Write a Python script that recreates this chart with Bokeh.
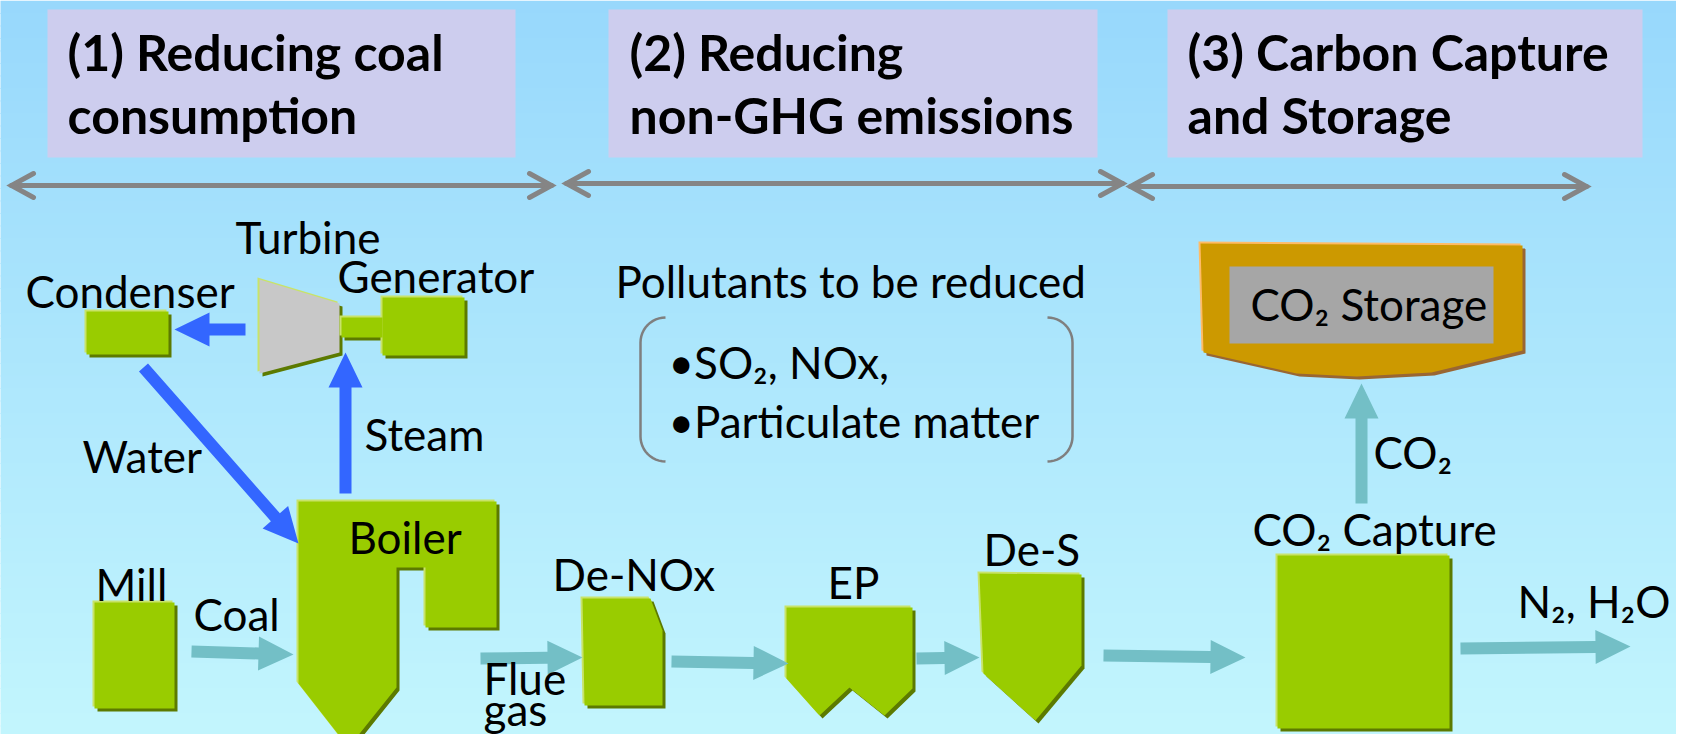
import math
from bokeh.plotting import figure
from bokeh.models import Range1d
from bokeh.core.properties import value
from bokeh.embed import file_html
from bokeh.resources import INLINE

# ---------------- data (image pixel coordinates) ----------------
header_left = [47, 608, 1167]
header_right = [515, 1097, 1642]
header_top = [9, 9, 9]
header_bottom = [157, 157, 157]
header_text = ["(1) Reducing coal", "consumption", "(2) Reducing", "non-GHG emissions",
               "(3) Carbon Capture", "and Storage"]
header_text_x = [67, 67, 629, 629, 1187, 1187]
header_text_y = [70, 133, 70, 133, 70, 133]

span_x0 = [11, 566, 1130]
span_x1 = [551, 1122, 1586]
span_y = [185, 183, 186]

label_text = ["Turbine", "Generator", "Condenser", "Steam", "Water", "Boiler", "Mill", "Coal",
              "Flue", "gas", "De-NOx", "EP", "De-S", "Pollutants to be reduced",
              "\u2022SO\u2082, NOx,", "\u2022Particulate matter", "CO\u2082 Storage",
              "CO\u2082", "CO\u2082 Capture"]
label_x = [235, 337, 25, 364, 82, 348, 95, 193, 483, 483, 552, 827, 983, 615,
           668, 668, 1250, 1373, 1252]
label_y = [253, 292, 307, 450, 472, 553, 600, 630, 694, 725, 590, 598, 565, 297,
           378, 437, 320, 468, 545]
right_label_text = ["N\u2082, H\u2082O"]
right_label_x = [1670]
right_label_y = [617]

green_names = ["Condenser", "Shaft", "Generator", "Mill", "Boiler", "De-NOx", "EP", "De-S", "Capture"]
green_xs = [
    [86, 168, 168, 86],
    [341, 382, 382, 341],
    [382, 464, 464, 382],
    [94, 174, 174, 94],
    [298, 496, 496, 425, 425, 396, 396, 348, 298],
    [582, 650, 662, 662, 584],
    [786, 912, 912, 884, 849, 819, 786],
    [979, 1081, 1081, 1035, 983],
    [1277, 1449, 1449, 1277],
]
green_ys = [
    [311, 311, 354, 354],
    [317, 317, 337, 337],
    [297, 297, 355, 355],
    [602, 602, 708, 708],
    [501, 501, 627, 627, 567, 567, 687, 747, 683],
    [598, 598, 630, 705, 705],
    [607, 607, 688, 715, 687, 715, 678],
    [573, 574, 665, 720, 673],
    [555, 555, 728, 728],
]

turbine_xs = [259, 339, 339, 259]
turbine_ys = [279, 303, 352, 373]

storage_xs = [1200, 1522, 1522, 1431, 1356, 1296, 1203]
storage_ys = [243, 245, 350, 372, 376, 373, 352]
storage_inner = [1229, 1493, 266, 343]  # left, right, top, bottom

blue_arrows = [  # x0, y0, x1, y1
    (245, 329, 174, 329),
    (345, 493, 345, 352),
    (143, 367, 298, 543),
]
teal_arrows = [
    (191, 651, 293, 654),
    (480, 658, 582, 657),
    (671, 661, 788, 663),
    (916, 658, 979, 657),
    (1103, 655, 1245, 657),
    (1460, 648, 1630, 646),
    (1361, 503, 1361, 383),
]

bracket_left_x, bracket_right_x = 640, 1072
bracket_top, bracket_bottom = 317, 461
bracket_arm = 25

# ---------------- styling ----------------
BG_TOP = (0x98, 0xd8, 0xfc)
BG_BOTTOM = (0xc3, 0xf6, 0xfd)
GREEN = "#99cc00"
GREEN_HI = "#c8e36a"
GREEN_SH = "#5c7a00"
BLUE = "#3366ff"
TEAL = "#73bfc6"
GREY_ARROW = "#858585"
HEADER_FILL = "#cdcdee"
FONT = "Lato"
TITLE_PX = 50
LABEL_PX = 44
BASELINE_FIX = 0.38  # em; compensates renderer baseline offset

p = figure(width=1676, height=734, x_range=Range1d(0, 1676), y_range=Range1d(734, 0),
           output_backend="svg", toolbar_location=None, min_border=0)
p.axis.visible = False
p.grid.visible = False
p.outline_line_color = None

# background gradient (bands)
nb = 60
bt, bb, bl, br = [], [], [], []
cols = []
for i in range(nb):
    y0 = i * 750 / nb
    y1 = (i + 1) * 750 / nb + 1
    t = i / (nb - 1)
    c = tuple(int(round(BG_TOP[k] + (BG_BOTTOM[k] - BG_TOP[k]) * t)) for k in range(3))
    cols.append("#%02x%02x%02x" % c)
    bt.append(y0); bb.append(y1); bl.append(-10); br.append(1700)
p.quad(left=bl, right=br, top=bt, bottom=bb, fill_color=cols, line_color=None)

# header boxes
p.quad(left=header_left, right=header_right, top=header_top, bottom=header_bottom,
       fill_color=HEADER_FILL, line_color=None)
p.text(x=header_text_x, y=[y - BASELINE_FIX * TITLE_PX for y in header_text_y],
       text=header_text, text_font=value(FONT),
       text_font_style="bold", text_font_size=value(f"{TITLE_PX}px"), text_color="black",
       text_baseline="alphabetic", text_align="left")

# span arrows
for x0, x1, y in zip(span_x0, span_x1, span_y):
    p.line([x0, x1], [y, y], line_color=GREY_ARROW, line_width=5, line_cap="round")
    p.line([x0 + 22, x0, x0 + 22], [y - 12, y, y + 12], line_color=GREY_ARROW,
           line_width=5, line_cap="round", line_join="miter")
    p.line([x1 - 22, x1, x1 - 22], [y - 12, y, y + 12], line_color=GREY_ARROW,
           line_width=5, line_cap="round", line_join="miter")


def arrow_poly(x0, y0, x1, y1, sw=12, hl=35, hw=17):
    dx, dy = x1 - x0, y1 - y0
    L = math.hypot(dx, dy)
    ux, uy = dx / L, dy / L
    nx, ny = -uy, ux
    bx, by = x1 - ux * hl, y1 - uy * hl
    h = sw / 2
    xs = [x0 + nx * h, bx + nx * h, bx + nx * hw, x1, bx - nx * hw, bx - nx * h, x0 - nx * h]
    ys = [y0 + ny * h, by + ny * h, by + ny * hw, y1, by - ny * hw, by - ny * h, y0 - ny * h]
    return xs, ys


def shaded(xs_list, ys_list, fill, hi, sh):
    p.patches([[x + 3 for x in xs] for xs in xs_list], [[y + 3 for y in ys] for ys in ys_list],
              fill_color=sh, line_color=None)
    p.patches([[x - 2 for x in xs] for xs in xs_list], [[y - 2 for y in ys] for ys in ys_list],
              fill_color=hi, line_color=None)
    p.patches(xs_list, ys_list, fill_color=fill, line_color=None)


# storage
shaded([storage_xs], [storage_ys], "#cc9900", "#ffbb66", "#996633")
p.quad(left=[storage_inner[0]], right=[storage_inner[1]], top=[storage_inner[2]],
       bottom=[storage_inner[3]], fill_color="#a6a6a6", line_color=None)

# turbine
shaded([turbine_xs], [turbine_ys], "#c8c8c8", GREEN_HI, GREEN_SH)

# green equipment
shaded(green_xs, green_ys, GREEN, GREEN_HI, GREEN_SH)

# arrows
bx_, by_ = [], []
for a in blue_arrows:
    xs, ys = arrow_poly(*a)
    bx_.append(xs); by_.append(ys)
p.patches(bx_, by_, fill_color=BLUE, line_color=None)
tx_, ty_ = [], []
for a in teal_arrows:
    xs, ys = arrow_poly(*a)
    tx_.append(xs); ty_.append(ys)
p.patches(tx_, ty_, fill_color=TEAL, line_color=None)


# brackets
def bracket(xv, sign):
    xs, ys = [], []
    r = bracket_arm
    for k in range(0, 13):
        a = math.pi / 2 * k / 12
        xs.append(xv + sign * (r - r * math.sin(a)))
        ys.append(bracket_top + r - r * math.cos(a))
    for k in range(12, -1, -1):
        a = math.pi / 2 * k / 12
        xs.append(xv + sign * (r - r * math.sin(a)))
        ys.append(bracket_bottom - r + r * math.cos(a))
    return xs, ys


for xv, sg in ((bracket_left_x, 1), (bracket_right_x, -1)):
    xs, ys = bracket(xv, sg)
    p.line(xs, ys, line_color="#7f7f7f", line_width=2.5)

# labels
p.text(x=label_x, y=[y - BASELINE_FIX * LABEL_PX for y in label_y], text=label_text,
       text_font=value(FONT), text_font_size=value(f"{LABEL_PX}px"), text_color="black",
       text_baseline="alphabetic", text_align="left")
p.text(x=right_label_x, y=[y - BASELINE_FIX * LABEL_PX for y in right_label_y],
       text=right_label_text, text_font=value(FONT), text_font_size=value(f"{LABEL_PX}px"),
       text_color="black", text_baseline="alphabetic", text_align="right")

open("out.html", "w").write(file_html(p, INLINE))
